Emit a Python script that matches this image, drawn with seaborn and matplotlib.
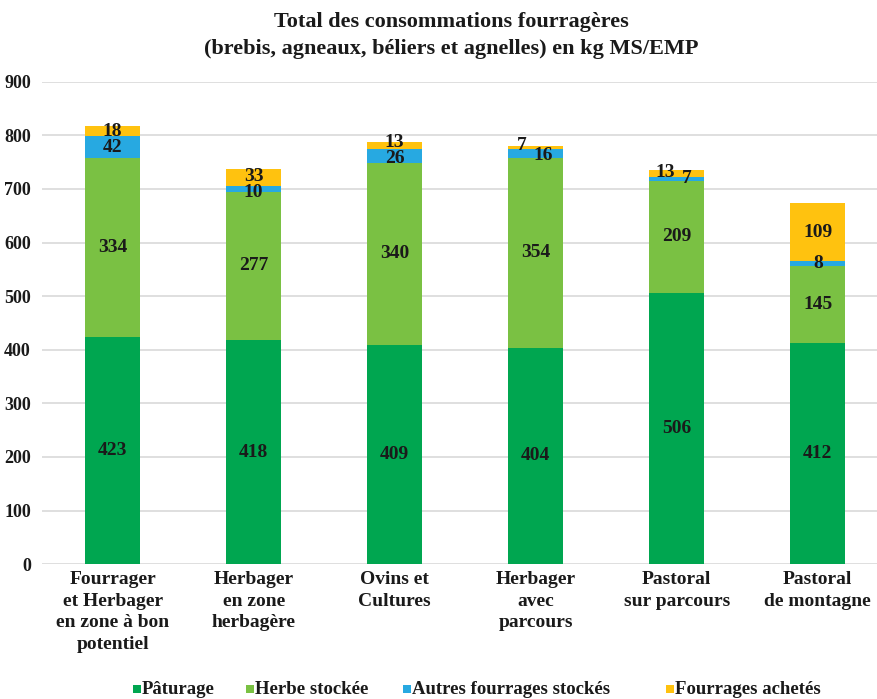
import matplotlib
matplotlib.use("Agg")
import matplotlib.pyplot as plt
import seaborn as sns
import pandas as pd
import numpy as np
from matplotlib.patches import Rectangle

categories = ["Fourrager\net Herbager\nen zone à bon\npotentiel", "Herbager\nen zone\nherbagère",
              "Ovins et\nCultures", "Herbager\navec\nparcours", "Pastoral\nsur parcours",
              "Pastoral\nde montagne"]
paturage = [423, 418, 409, 404, 506, 412]
herbe_stockee = [334, 277, 340, 354, 209, 145]
autres_fourrages = [42, 10, 26, 16, 7, 8]
fourrages_achetes = [18, 33, 13, 7, 13, 109]
series_names = ["Pâturage", "Herbe stockée", "Autres fourrages stockés", "Fourrages achetés"]
colors = ["#00A650", "#7AC143", "#27A9E1", "#FFC20F"]
title = "Total des consommations fourragères\n(brebis, agneaux, béliers et agnelles) en kg MS/EMP"

sns.set_theme(style="white")
FAM = "Liberation Serif"
plt.rcParams["font.family"] = [FAM, "DejaVu Serif"]
FONT = dict(family=FAM, fontweight="bold")
TXT = "#1a1a1a"
W, H = 877, 699

series = [paturage, herbe_stockee, autres_fourrages, fourrages_achetes]
cum = np.cumsum(np.array(series), axis=0)

fig = plt.figure(figsize=(8.77, 6.99), dpi=100)
ax = fig.add_axes([0.048, 0.193, 0.952, 0.69])

for i in range(3, -1, -1):
    df = pd.DataFrame({"cat": categories, "val": cum[i]})
    sns.barplot(data=df, x="cat", y="val", color=colors[i], width=0.39, ax=ax,
                saturation=1, edgecolor="none", zorder=2)

# value labels
offsets = {(3, 3): -0.1, (3, 2): 0.05, (4, 3): -0.08, (4, 2): 0.07}
yoff = {(2, 3): 6, (2, 2): -5, (3, 3): 3, (3, 2): -4, (4, 3): 3, (4, 2): 1, (1, 3): 2, (1, 2): -6}
for j in range(len(categories)):
    base = 0
    for i, s in enumerate(series):
        v = s[j]
        x = j + offsets.get((j, i), 0)
        y = base + v / 2 + yoff.get((j, i), 0)
        ax.text(x, y, str(v), ha="center", va="center", fontsize=14, color=TXT, zorder=5, **FONT)
        base += v

ax.set_ylim(0, 900)
ax.set_xlim(-0.5, 5.42)
ax.set_yticks(range(0, 901, 100))
ax.yaxis.grid(True, color="#d9d9d9", linewidth=1.2, zorder=0)
ax.set_axisbelow(True)
for sp in ax.spines.values():
    sp.set_visible(False)
ax.set_xlabel("")
ax.set_ylabel("")
ax.tick_params(axis="y", length=0, pad=8)
ax.tick_params(axis="x", length=0, pad=5)
for lab in ax.get_yticklabels():
    lab.set_fontsize(13)
    lab.set_fontweight("bold")
    lab.set_family(FAM)
    lab.set_color(TXT)
ax.set_xticks(range(len(categories)))
ax.set_xticklabels(categories, fontsize=14, fontweight="bold", family=FAM,
                   color=TXT, va="top", linespacing=1.35)

fig.suptitle(title, x=0.515, y=0.983, fontsize=16, color=TXT, linespacing=1.45, **FONT)

# legend (manual placement, Excel-style uneven spacing)
leg_x = [133, 246, 403, 666]
leg_y = 689
sq = 8
for xp, name, c in zip(leg_x, series_names, colors):
    fig.patches.append(Rectangle((xp / W, (H - leg_y - sq / 2) / H), sq / W, sq / H,
                                 transform=fig.transFigure, facecolor=c, edgecolor="none"))
    fig.text((xp + sq + 1) / W, (H - leg_y) / H, name, ha="left", va="center",
             fontsize=13.5, color=TXT, **FONT)

fig.savefig("out.png", dpi=100)
